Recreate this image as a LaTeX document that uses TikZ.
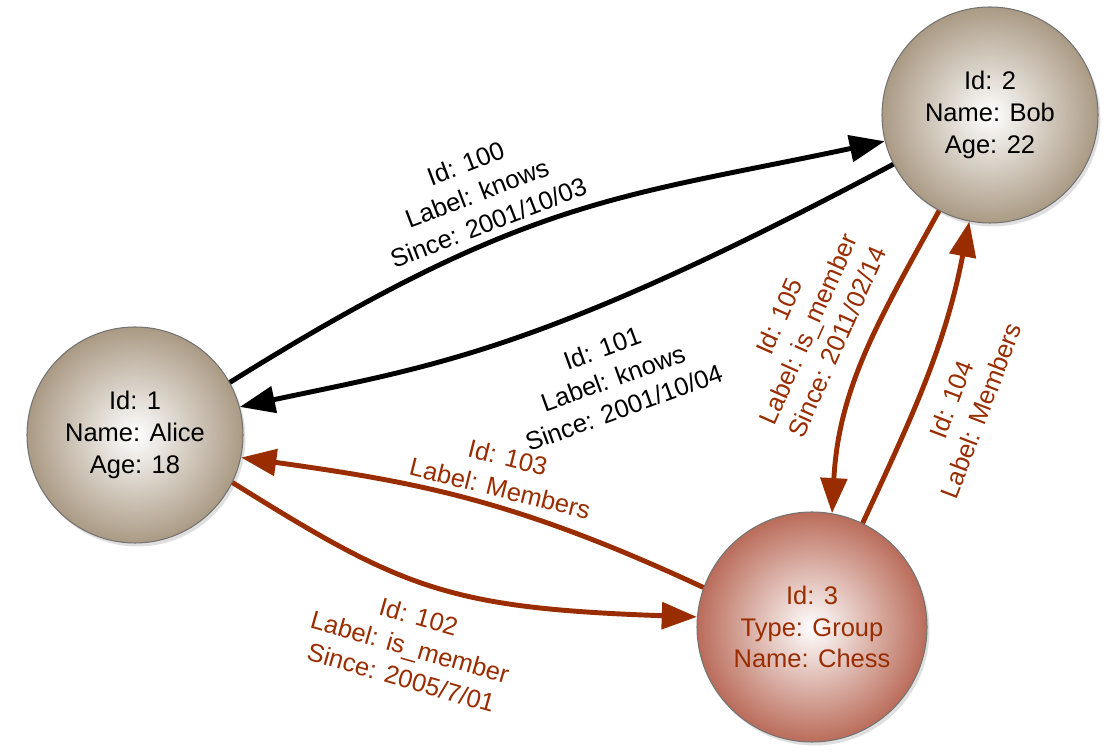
\documentclass[tikz,border=0pt]{standalone}
\usepackage{fontspec}
\setmainfont{Liberation Sans}
\usetikzlibrary{arrows.meta,shadows}

\definecolor{tanbrown}{RGB}{170,154,132}
\definecolor{rosebrown}{RGB}{186,108,90}
\definecolor{rust}{RGB}{153,45,0}

\begin{document}
\begin{tikzpicture}[
            vertex/.style={circle,draw=black!55,line width=.6pt,minimum size=4.32cm,inner sep=0pt,align=center,
                           font=\fontsize{14.5}{18}\selectfont,shading=radial,inner color=white,outer color=tanbrown,
                           drop shadow={opacity=.25,shadow xshift=.05cm,shadow yshift=-.07cm}},
            group/.style={vertex,minimum size=4.6cm,outer color=rosebrown,text=rust},
            lab/.style={align=center,font=\fontsize{14.5}{18}\selectfont,inner sep=1pt},
            grouplab/.style={lab,text=rust},
            rel/.style={draw,line width=2.8pt,-{Triangle[length=20pt,width=15pt]}},
            grouprel/.style={rel,rust}
          ]
          \useasboundingbox[fill=white] (0,0) rectangle (22.08,15.04);

          \node[vertex] (alice) at (2.70,6.34) {Id: 1\\Name: Alice\\Age: 18};
          \node[vertex] (bob) at (19.80,12.74) {Id: 2\\Name: Bob\\Age: 22};
          \node[group] (chess) at (16.24,2.50) {Id: 3\\Type: Group\\Name: Chess};

          %labels
          \node[lab,rotate=21] (l100) at (9.54,11.18) {Id: 100\\Label: knows\\Since: 2001/10/03};
          \node[lab,rotate=20] (l101) at (12.26,7.48) {Id: 101\\Label: knows\\Since: 2001/10/04};
          \node[grouplab,rotate=-16] (l102) at (8.20,2.10) {Id: 102\\Label: is\_member\\Since: 2005/7/01};
          \node[grouplab,rotate=-14] (l103) at (10.08,5.58) {Id: 103\\Label: Members};
          \node[grouplab,rotate=69] (l104) at (19.32,6.94) {Id: 104\\Label: Members};
          \node[grouplab,rotate=66] (l105) at (16.16,8.46) {Id: 105\\Label: is\_member\\Since: 2011/02/14};

          %relations
          \path
          (alice.29) edge[rel,out=32,in=192,out distance=7cm] (bob.194)
          (bob.207) edge[rel,out=208,in=12,out distance=8cm,in distance=4cm] (alice.15)

          (alice.334) edge[grouprel,out=-32,in=178,out distance=4cm,in distance=5cm] (chess.175)
          (chess.160) edge[grouprel,out=155,in=-8,out distance=4.2cm,in distance=3.5cm] (alice.348)
          (chess.64) edge[grouprel,out=65,in=259] (bob.259)
          (bob.242) edge[grouprel,out=241,in=87] (chess.80)
          ;

      \end{tikzpicture}
\end{document}
